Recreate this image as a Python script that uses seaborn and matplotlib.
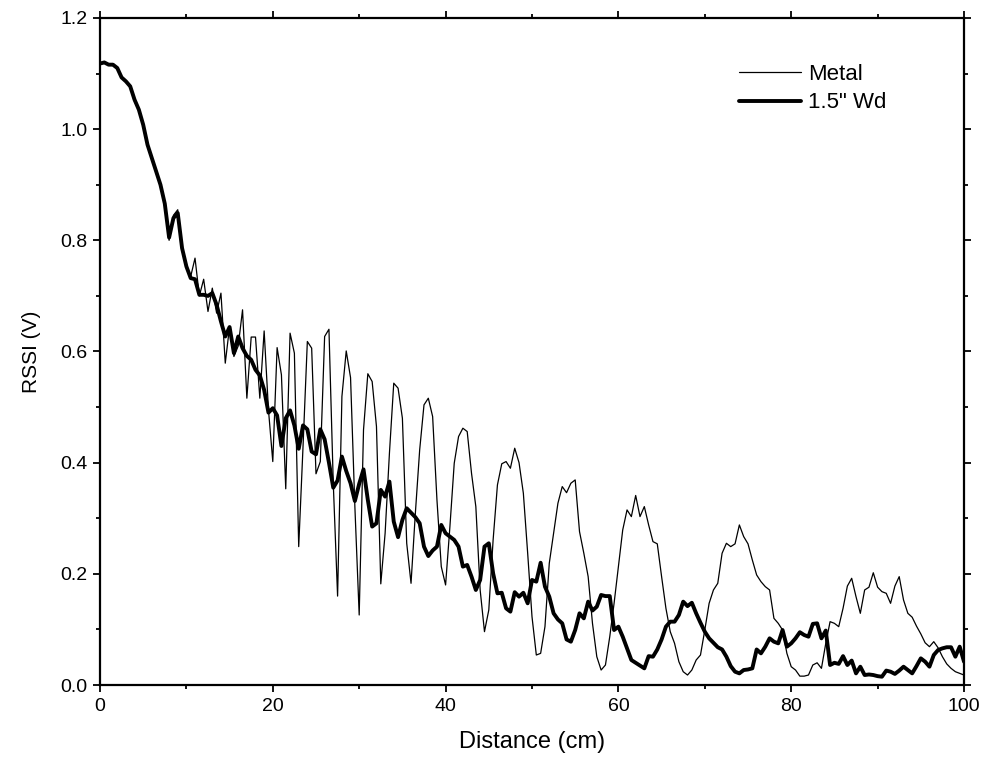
import numpy as np
import pandas as pd
import matplotlib
matplotlib.use("Agg")
import matplotlib.pyplot as plt
import seaborn as sns
from matplotlib.ticker import MultipleLocator

sns.set_theme(style="ticks")
plt.rcParams["font.family"] = ["Liberation Sans", "DejaVu Sans"]

distance_cm = np.arange(0, 100.5, 0.5)

metal = [
    1.118, 1.120, 1.116, 1.116, 1.108, 1.093, 1.086, 1.075, 1.050, 1.035,
    1.006, 0.970, 0.950, 0.922, 0.898, 0.868, 0.800, 0.845, 0.855, 0.790,
    0.752, 0.735, 0.768, 0.700, 0.730, 0.672, 0.714, 0.669, 0.705, 0.579,
    0.645, 0.591, 0.610, 0.675, 0.516, 0.626, 0.626, 0.516, 0.637, 0.495,
    0.402, 0.607, 0.558, 0.353, 0.633, 0.597, 0.249, 0.429, 0.618, 0.606,
    0.380, 0.402, 0.627, 0.640, 0.363, 0.160, 0.519, 0.601, 0.553, 0.321,
    0.126, 0.459, 0.560, 0.546, 0.465, 0.182, 0.273, 0.417, 0.543, 0.534,
    0.480, 0.255, 0.183, 0.309, 0.423, 0.504, 0.516, 0.483, 0.333, 0.213,
    0.180, 0.285, 0.399, 0.447, 0.462, 0.456, 0.381, 0.321, 0.171, 0.096,
    0.135, 0.261, 0.360, 0.398, 0.402, 0.390, 0.426, 0.400, 0.345, 0.237,
    0.123, 0.054, 0.057, 0.105, 0.219, 0.273, 0.327, 0.357, 0.346, 0.363,
    0.369, 0.276, 0.237, 0.195, 0.111, 0.051, 0.027, 0.036, 0.087, 0.147,
    0.213, 0.279, 0.315, 0.303, 0.341, 0.303, 0.321, 0.288, 0.258, 0.254,
    0.195, 0.138, 0.096, 0.075, 0.042, 0.024, 0.018, 0.027, 0.045, 0.054,
    0.099, 0.147, 0.171, 0.183, 0.237, 0.255, 0.249, 0.254, 0.288, 0.267,
    0.254, 0.225, 0.198, 0.186, 0.177, 0.171, 0.120, 0.111, 0.099, 0.057,
    0.033, 0.027, 0.016, 0.016, 0.018, 0.036, 0.040, 0.030, 0.075, 0.114,
    0.111, 0.105, 0.138, 0.178, 0.192, 0.159, 0.129, 0.171, 0.176, 0.202,
    0.176, 0.168, 0.165, 0.147, 0.178, 0.195, 0.153, 0.129, 0.122, 0.106,
    0.092, 0.076, 0.069, 0.078, 0.067, 0.051, 0.038, 0.030, 0.024, 0.021,
    0.018,
]

wood = [
    1.118, 1.120, 1.116, 1.116, 1.110, 1.093, 1.086, 1.077, 1.053, 1.035,
    1.008, 0.972, 0.948, 0.924, 0.900, 0.866, 0.805, 0.840, 0.849, 0.786,
    0.753, 0.732, 0.730, 0.702, 0.702, 0.700, 0.705, 0.684, 0.654, 0.627,
    0.644, 0.597, 0.627, 0.606, 0.592, 0.585, 0.567, 0.557, 0.531, 0.490,
    0.498, 0.485, 0.430, 0.480, 0.494, 0.467, 0.425, 0.467, 0.460, 0.420,
    0.415, 0.460, 0.442, 0.400, 0.355, 0.368, 0.411, 0.385, 0.363, 0.331,
    0.362, 0.388, 0.333, 0.285, 0.291, 0.351, 0.339, 0.366, 0.294, 0.266,
    0.297, 0.318, 0.310, 0.302, 0.291, 0.249, 0.232, 0.242, 0.249, 0.288,
    0.273, 0.267, 0.261, 0.249, 0.213, 0.216, 0.195, 0.171, 0.189, 0.249,
    0.255, 0.201, 0.165, 0.166, 0.138, 0.132, 0.167, 0.159, 0.166, 0.147,
    0.189, 0.186, 0.220, 0.177, 0.159, 0.129, 0.118, 0.111, 0.082, 0.078,
    0.099, 0.129, 0.120, 0.150, 0.134, 0.141, 0.162, 0.160, 0.160, 0.099,
    0.105, 0.087, 0.066, 0.045, 0.040, 0.035, 0.030, 0.052, 0.051, 0.064,
    0.082, 0.105, 0.114, 0.114, 0.126, 0.150, 0.142, 0.148, 0.129, 0.112,
    0.096, 0.084, 0.076, 0.068, 0.064, 0.051, 0.034, 0.024, 0.021, 0.027,
    0.028, 0.030, 0.064, 0.057, 0.069, 0.084, 0.078, 0.075, 0.099, 0.069,
    0.075, 0.084, 0.095, 0.090, 0.087, 0.110, 0.111, 0.084, 0.098, 0.036,
    0.040, 0.038, 0.052, 0.036, 0.044, 0.021, 0.033, 0.018, 0.019, 0.018,
    0.016, 0.015, 0.026, 0.024, 0.020, 0.026, 0.033, 0.027, 0.021, 0.034,
    0.048, 0.042, 0.033, 0.054, 0.063, 0.066, 0.068, 0.068, 0.051, 0.069,
    0.042,
]

series_names = ["Metal", '1.5" Wd']
x_label = "Distance (cm)"
y_label = "RSSI (V)"

df = pd.DataFrame({"Distance": distance_cm, "Metal": metal, "Wood": wood})

fig = plt.figure(figsize=(9.86, 7.71), dpi=100)
ax = fig.add_axes([0.1014, 0.1115, 0.8763, 0.8652])

sns.lineplot(data=df, x="Distance", y="Metal", ax=ax, color="black",
             linewidth=0.9, label=series_names[0], estimator=None, sort=False)
sns.lineplot(data=df, x="Distance", y="Wood", ax=ax, color="black",
             linewidth=2.8, label=series_names[1], estimator=None, sort=False)

ax.set_xlim(0, 100)
ax.set_ylim(0, 1.2)
ax.xaxis.set_major_locator(MultipleLocator(20))
ax.xaxis.set_minor_locator(MultipleLocator(10))
ax.yaxis.set_major_locator(MultipleLocator(0.2))
ax.yaxis.set_minor_locator(MultipleLocator(0.1))
ax.yaxis.set_major_formatter(matplotlib.ticker.FormatStrFormatter("%.1f"))

ax.tick_params(axis="both", which="both", direction="out", top=True, right=True,
               labeltop=False, labelright=False, color="black", labelsize=14,
               labelcolor="black", width=1.3, pad=4)
ax.tick_params(which="major", length=5)
ax.tick_params(which="minor", length=3)
for s in ax.spines.values():
    s.set_visible(True)
    s.set_linewidth(1.6)
    s.set_color("black")

ax.set_xlabel(x_label, fontsize=17, color="black", labelpad=12)
ax.set_ylabel(y_label, fontsize=15, color="black", labelpad=14)

leg = ax.legend(loc="upper left", bbox_to_anchor=(0.729, 0.944), frameon=False,
                fontsize=16, handlelength=2.8, handletextpad=0.3, labelspacing=0.32,
                borderaxespad=0)
for t in leg.get_texts():
    t.set_color("black")

fig.savefig("out.png", dpi=100)
